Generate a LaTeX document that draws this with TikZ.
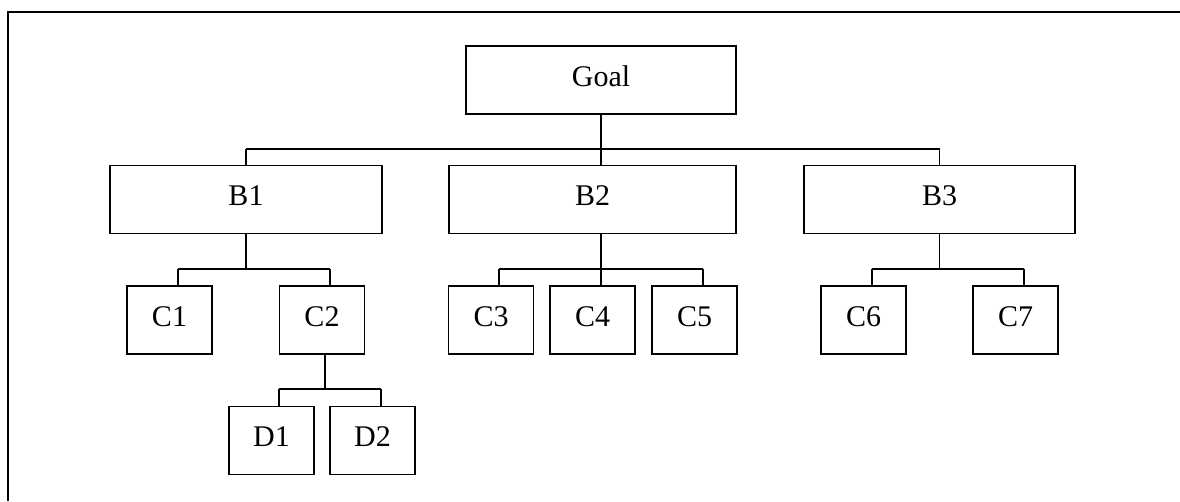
\documentclass[tikz,border=0pt]{standalone}
\usepackage{fontspec}
\setmainfont{Liberation Serif}
\begin{document}
\begin{tikzpicture}[x=1pt,y=-1pt,
  box/.style={draw, line width=1.2pt, inner sep=0pt, text height=20pt, text depth=8pt,
    font=\fontsize{30}{36}\selectfont, minimum height=68pt},
  wide/.style={box, minimum width=#1},
  sq/.style={box, minimum width=85pt},
  link/.style={line width=1.3pt},
  bus/.style={line width=1.8pt}]
\useasboundingbox (0,0) rectangle (1180,501);
\draw[line width=1.2pt] (8,501) -- (8,12) -- (1180,12);

\node[wide=270pt] (goal) at (601,80) {Goal};
\node[wide=272pt] (b1) at (246,199.5) {B1};
\node[wide=287pt] (b2) at (592.5,199.5) {B2};
\node[wide=271pt] (b3) at (939.5,199.5) {B3};

\node[sq] (c1) at (169.5,320) {C1};
\node[sq] (c2) at (322,320) {C2};
\node[sq] (c3) at (491,320) {C3};
\node[sq] (c4) at (592.5,320) {C4};
\node[sq] (c5) at (694.5,320) {C5};
\node[sq] (c6) at (863.5,320) {C6};
\node[sq] (c7) at (1015.5,320) {C7};

\node[sq] (d1) at (271.5,440.5) {D1};
\node[sq] (d2) at (372.5,440.5) {D2};

\coordinate (busA) at (0,149);
\coordinate (busB) at (0,269);
\coordinate (busC) at (0,389);

% Goal -> B level
\draw[bus] (b1.north |- busA) -- (b3.north |- busA);
\draw[link] (goal.south) -- ([xshift=8.5pt]b2.north);
\draw[link] (b1.north) -- (b1.north |- busA);
\draw[link] (b3.north) -- (b3.north |- busA);

% B1 -> C1, C2
\draw[link] (b1.south) -- (b1.south |- busB);
\draw[bus] ([xshift=8.5pt]c1.north |- busB) -- ([xshift=8pt]c2.north |- busB);
\draw[link] ([xshift=8.5pt]c1.north) -- ([xshift=8.5pt]c1.north |- busB);
\draw[link] ([xshift=8pt]c2.north) -- ([xshift=8pt]c2.north |- busB);

% C2 -> D1, D2
\draw[link] ([xshift=3pt]c2.south) -- ([xshift=3pt]c2.south |- busC);
\draw[bus] ([xshift=7.5pt]d1.north |- busC) -- ([xshift=8.5pt]d2.north |- busC);
\draw[link] ([xshift=7.5pt]d1.north) -- ([xshift=7.5pt]d1.north |- busC);
\draw[link] ([xshift=8.5pt]d2.north) -- ([xshift=8.5pt]d2.north |- busC);

% B2 -> C3, C4, C5
\draw[link] ([xshift=8.5pt]b2.south) -- ([xshift=8.5pt]c4.north);
\draw[bus] ([xshift=8pt]c3.north |- busB) -- ([xshift=8.5pt]c5.north |- busB);
\draw[link] ([xshift=8pt]c3.north) -- ([xshift=8pt]c3.north |- busB);
\draw[link] ([xshift=8.5pt]c5.north) -- ([xshift=8.5pt]c5.north |- busB);

% B3 -> C6, C7
\draw[link] (b3.south) -- (b3.south |- busB);
\draw[bus] ([xshift=8.5pt]c6.north |- busB) -- ([xshift=8.5pt]c7.north |- busB);
\draw[link] ([xshift=8.5pt]c6.north) -- ([xshift=8.5pt]c6.north |- busB);
\draw[link] ([xshift=8.5pt]c7.north) -- ([xshift=8.5pt]c7.north |- busB);
\end{tikzpicture}
\end{document}
